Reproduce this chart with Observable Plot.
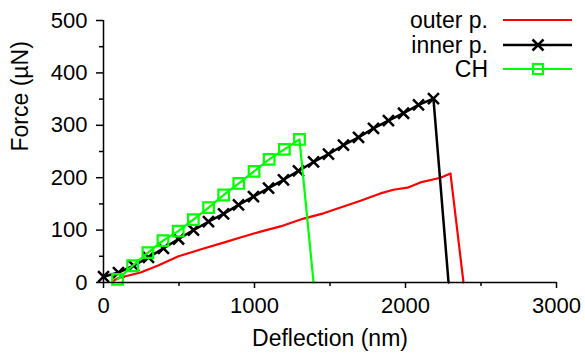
<!DOCTYPE html>
<html>
<head>
<meta charset="utf-8">
<script src="https://cdn.jsdelivr.net/npm/d3@7"></script>
<script src="https://cdn.jsdelivr.net/npm/@observablehq/plot@0.6"></script>
<style>
  html, body { margin: 0; padding: 0; background: white; }
</style>
</head>
<body>
<div id="chart"></div>
<script>
// Series: outer p. (red line)
const outerX = [60, 93, 245, 358, 497, 642, 795, 907, 1040, 1172, 1325, 1457, 1570, 1702, 1834, 1920, 2013, 2099, 2232, 2298, 2384];
const outerY = [2, 8, 19, 32, 50, 63, 76, 86, 97, 107, 122, 132, 143, 156, 170, 177, 181, 191, 200, 208, 0];
// Series: inner p. (black, x markers)
const innerX = [0, 99, 199, 298, 397, 497, 596, 695, 795, 894, 993, 1093, 1192, 1291, 1391, 1490, 1589, 1689, 1788, 1887, 1987, 2086, 2185, 2285];
const innerY = [11, 19, 32, 48, 65, 83, 100, 116, 131, 148, 164, 180, 196, 213, 230, 245, 262, 277, 294, 309, 323, 339, 351, 0];
const innerMarked = 23; // points carrying a marker
// Series: CH (green, square markers)
const chX = [93, 193, 294, 394, 495, 595, 696, 796, 896, 997, 1097, 1198, 1298, 1391];
const chY = [6, 32, 57, 80, 98, 120, 143, 167, 189, 212, 235, 254, 273, 0];
const chMarked = 13;

const seriesNames = ["outer p.", "inner p.", "CH"];
const seriesColors = ["#ff0000", "#000000", "#00ff00"];

const xMajor = [0, 1000, 2000, 3000];
const xMinor = [500, 1500, 2500];
const yMajor = [0, 100, 200, 300, 400, 500];
const yMinor = [50, 150, 250, 350, 450];
const xTitle = "Deflection (nm)";
const yTitle = "Force (\u00b5N)";

const toRows = (xs, ys) => xs.map((x, i) => ({x, y: ys[i]}));
const outer = toRows(outerX, outerY);
const inner = toRows(innerX, innerY);
const ch = toRows(chX, chY);

const crossSymbol = {
  draw(ctx, size) {
    const r = Math.sqrt(size / Math.PI);
    ctx.moveTo(-r, -r); ctx.lineTo(r, r);
    ctx.moveTo(-r, r); ctx.lineTo(r, -r);
  }
};
const squareSymbol = {
  draw(ctx, size) {
    const r = Math.sqrt(size / Math.PI);
    ctx.moveTo(-r, -r); ctx.lineTo(r, -r); ctx.lineTo(r, r); ctx.lineTo(-r, r); ctx.closePath();
  }
};

const font = "'Liberation Sans', Arial, Helvetica, sans-serif";

const svg = Plot.plot({
  width: 585,
  height: 355,
  marginLeft: 103,
  marginRight: 29,
  marginTop: 20,
  marginBottom: 73,
  style: {fontFamily: font, fontSize: "22px", color: "black", background: "white", overflow: "visible"},
  x: {domain: [0, 3000]},
  y: {domain: [0, 500]},
  marks: [
    Plot.axisX({ticks: xMajor, tickSize: 6, tickPadding: 9, tickFormat: "d", label: null, fontSize: 22, strokeWidth: 1.5}),
    Plot.axisX({ticks: xMinor, tickSize: 4, tickFormat: () => "", label: null, strokeWidth: 1.5}),
    Plot.axisY({ticks: yMajor, tickSize: 7, tickPadding: 9, tickFormat: "d", label: null, fontSize: 22, strokeWidth: 1.5}),
    Plot.axisY({ticks: yMinor, tickSize: 4, tickFormat: () => "", label: null, strokeWidth: 1.5}),
    Plot.line(outer, {x: "x", y: "y", stroke: seriesColors[0], strokeWidth: 2.2}),
    Plot.line(inner, {x: "x", y: "y", stroke: seriesColors[1], strokeWidth: 2.5}),
    Plot.dot(inner.slice(0, innerMarked), {x: "x", y: "y", symbol: crossSymbol, r: 5.5, stroke: seriesColors[1], strokeWidth: 2.5, fill: "none"}),
    Plot.line(ch, {x: "x", y: "y", stroke: seriesColors[2], strokeWidth: 2.2}),
    Plot.dot(ch.slice(0, chMarked), {x: "x", y: "y", symbol: squareSymbol, r: 5.3, stroke: seriesColors[2], strokeWidth: 2.2, fill: "none"}),
    Plot.ruleX([0], {stroke: "black", strokeWidth: 1.5}),
    Plot.ruleY([0], {stroke: "black", strokeWidth: 1.5}),
    Plot.text([xTitle], {text: d => d, frameAnchor: "bottom", lineAnchor: "bottom", dy: 63, fontSize: 23}),
    Plot.text([yTitle], {text: d => d, frameAnchor: "left", lineAnchor: "bottom", rotate: -90, dx: -76, fontSize: 23})
  ]
});

// Legend (top-right)
const sel = d3.select(svg);
const lg = sel.append("g").attr("font-family", font).attr("font-size", 23);
const rowsY = [20, 45, 69];
seriesNames.forEach((name, i) => {
  const y = rowsY[i];
  lg.append("text").attr("x", 488).attr("y", y + 8).attr("text-anchor", "end").attr("fill", "black").text(name);
  lg.append("line").attr("x1", 503).attr("x2", 572).attr("y1", y).attr("y2", y)
    .attr("stroke", seriesColors[i]).attr("stroke-width", i === 1 ? 2.5 : 2.2);
  if (i === 1) {
    lg.append("path").attr("d", `M${532.5},${y - 5.5}L${543.5},${y + 5.5}M${532.5},${y + 5.5}L${543.5},${y - 5.5}`)
      .attr("stroke", seriesColors[i]).attr("stroke-width", 2.5).attr("fill", "none");
  }
  if (i === 2) {
    lg.append("rect").attr("x", 533).attr("y", y - 5).attr("width", 10).attr("height", 10)
      .attr("stroke", seriesColors[i]).attr("stroke-width", 2.2).attr("fill", "none");
  }
});

document.getElementById("chart").appendChild(svg);
</script>
</body>
</html>
